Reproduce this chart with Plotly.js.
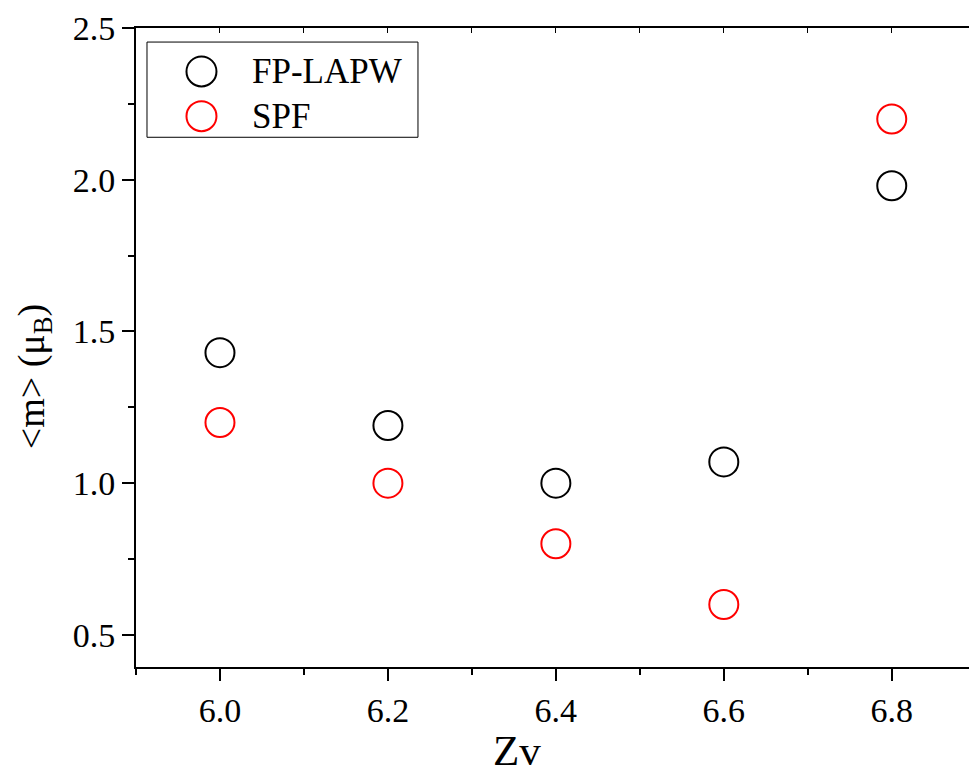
<!DOCTYPE html>
<html>
<head>
<meta charset="utf-8">
<script src="https://cdn.plot.ly/plotly-3.0.1.min.js"></script>
<style>html,body{margin:0;padding:0;background:#fff;}</style>
</head>
<body>
<div id="chart" style="width:969px;height:777px;"></div>
<script>
const zv = [6.0, 6.2, 6.4, 6.6, 6.8];
const fpLapw = [1.43, 1.19, 1.00, 1.07, 1.98];
const spf = [1.20, 1.00, 0.80, 0.60, 2.20];
const xTickVals = [6.0, 6.2, 6.4, 6.6, 6.8];
const xTickText = ['6.0', '6.2', '6.4', '6.6', '6.8'];
const yTickVals = [0.5, 1.0, 1.5, 2.0, 2.5];
const yTickText = ['0.5', '1.0', '1.5', '2.0', '2.5'];
const seriesNames = ['FP-LAPW', 'SPF'];
const seriesColors = ['#000000', '#ff0000'];
const xTitle = 'Zv';
const yTitle = '&lt;m&gt; (μ<sub>B</sub>)';

const font = 'Liberation Serif';
const traces = [
  {x: zv, y: fpLapw, name: seriesNames[0], mode: 'markers', type: 'scatter', showlegend: false,
   marker: {symbol: 'circle-open', size: 29, color: seriesColors[0], line: {width: 2, color: seriesColors[0]}}},
  {x: zv, y: spf, name: seriesNames[1], mode: 'markers', type: 'scatter', showlegend: false,
   marker: {symbol: 'circle-open', size: 29, color: seriesColors[1], line: {width: 2, color: seriesColors[1]}}},
  {x: [zv[0]], y: [spf[0]], xaxis: 'x2', yaxis: 'y', mode: 'markers', showlegend: false,
   marker: {opacity: 0}, hoverinfo: 'skip'}
];

// legend drawn as shapes + annotations (paper coords)
const legX0 = 0.0132, legX1 = 0.3385, legY0 = 0.829, legY1 = 0.978;
const legMarkX = 0.0786, legTextX = 0.137;
const legRowY = [0.932, 0.862];
const shapes = [
  {type: 'rect', xref: 'paper', yref: 'paper', x0: legX0, x1: legX1, y0: legY0, y1: legY1,
   line: {color: '#000', width: 1}, fillcolor: 'rgba(0,0,0,0)'}
];
const annotations = [];
seriesNames.forEach((n, i) => {
  shapes.push({type: 'circle', xref: 'paper', yref: 'paper', xsizemode: 'pixel', ysizemode: 'pixel',
    xanchor: legMarkX, yanchor: legRowY[i], x0: -15, x1: 15, y0: -15, y1: 15,
    line: {color: seriesColors[i], width: 2}});
  annotations.push({xref: 'paper', yref: 'paper', x: legTextX, y: legRowY[i], text: n,
    showarrow: false, xanchor: 'left', yanchor: 'middle',
    font: {family: font, size: 35, color: '#000'}});
});
// axis titles (placed as in the reference, slightly off-centre)
annotations.push({xref: 'paper', yref: 'paper', x: 0.457, y: -0.131, text: xTitle,
  showarrow: false, xanchor: 'center', yanchor: 'middle',
  font: {family: font, size: 43, color: '#000'}});
annotations.push({xref: 'paper', yref: 'paper', x: -0.1225, y: 0.455, text: yTitle, textangle: -90,
  showarrow: false, xanchor: 'center', yanchor: 'middle',
  font: {family: font, size: 38, color: '#000'}});

const layout = {
  width: 969, height: 777,
  margin: {l: 136, r: 0, t: 28, b: 110},
  paper_bgcolor: '#fff', plot_bgcolor: '#fff',
  font: {family: font, color: '#000', size: 34},
  showlegend: false,
  shapes: shapes,
  annotations: annotations,
  xaxis: {range: [5.9, 6.892], tickvals: xTickVals, ticktext: xTickText,
    showgrid: false, zeroline: false, showline: true, linecolor: '#000', linewidth: 2,
    ticks: 'outside', ticklen: 12, tickwidth: 2, tickcolor: '#000',
    minor: {dtick: 0.1, tick0: 5.9, ticks: 'outside', ticklen: 6, tickwidth: 2, tickcolor: '#000', showgrid: false},
    tickfont: {size: 34, family: font, color: '#000'}},
  xaxis2: {range: [5.9, 6.892], overlaying: 'x', side: 'top',
    showgrid: false, zeroline: false, showline: true, linecolor: '#000', linewidth: 2,
    dtick: 0.1, tick0: 5.9, showticklabels: false, ticks: 'inside', ticklen: 5, tickwidth: 1, tickcolor: '#000'},
  yaxis: {range: [0.394, 2.5], tickvals: yTickVals, ticktext: yTickText,
    showgrid: false, zeroline: false, showline: true, linecolor: '#000', linewidth: 2,
    ticks: 'outside', ticklen: 12, tickwidth: 2, tickcolor: '#000',
    minor: {dtick: 0.25, tick0: 0.5, ticks: 'outside', ticklen: 6, tickwidth: 2, tickcolor: '#000', showgrid: false},
    tickfont: {size: 34, family: font, color: '#000'}}
};
Plotly.newPlot('chart', traces, layout, {displayModeBar: false, staticPlot: true});
</script>
</body>
</html>
